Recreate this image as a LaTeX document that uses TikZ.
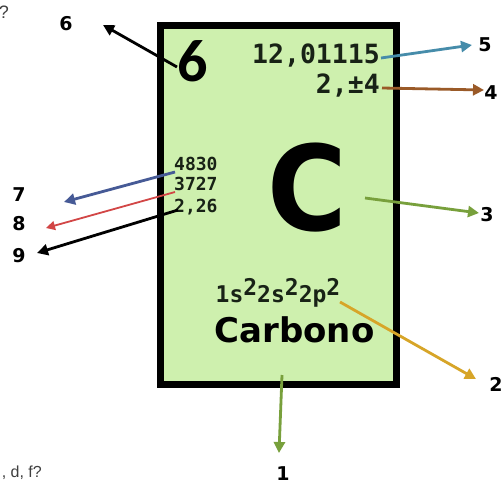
\documentclass[tikz,border=0pt]{standalone}
\usepackage{fontspec}
\setmainfont{Liberation Sans}
\newfontfamily\djb{DejaVu Sans}
\newfontfamily\monob{DejaVu Sans Mono}
\newfontfamily\carl{Carlito}
\usetikzlibrary{arrows.meta}
\definecolor{boxfill}{RGB}{206,240,174}
\definecolor{inktext}{RGB}{24,34,22}
\definecolor{cfive}{RGB}{70,140,170}
\definecolor{cfour}{RGB}{154,90,40}
\definecolor{cgreen}{RGB}{120,160,60}
\definecolor{cseven}{RGB}{70,90,150}
\definecolor{ceight}{RGB}{210,70,70}
\definecolor{ctwo}{RGB}{215,165,40}
\begin{document}
\begin{tikzpicture}[x=1pt,y=-1pt,
  elembox/.style={draw=black,line width=7pt,fill=boxfill,minimum width=236pt,minimum height=359pt,inner sep=0pt},
  numlab/.style={font=\fontsize{19}{19}\selectfont\djb\bfseries,inner sep=0pt},
  monotxt/.style={font=\fontsize{26.5}{26.5}\selectfont\monob\bfseries,text=inktext,inner sep=0pt},
  smallmono/.style={font=\fontsize{18}{18}\selectfont\monob\bfseries,text=inktext,inner sep=0pt},
  arr/.style={line width=2.8pt,-{Triangle[length=11pt,width=11pt]}},
  graytxt/.style={font=\fontsize{16}{16}\selectfont,text=black!75,inner sep=0pt}
]
\useasboundingbox (0,0) rectangle (503,485);
\fill[white] (0,0) rectangle (503,485);

% element box
\node[elembox] (box) at (278.5,205) {};

% texts in box
\node[font=\fontsize{60}{60}\selectfont\carl\bfseries,inner sep=0pt] (big6) at (192.5,61) {6};
\node[monotxt,anchor=base east] (mass) at (380,63) {12,01115};
\node[monotxt,anchor=base east] (ox) at (380,93) {2,±4};
\node[font=\fontsize{118}{118}\selectfont\djb\bfseries,inner sep=0pt,anchor=base] (sym) at (307.5,230) {\scalebox{0.92}[1]{C}};
\node[smallmono,anchor=base west] (boil) at (174,170) {4830};
\node[smallmono,anchor=base west] (melt) at (174,190) {3727};
\node[smallmono,anchor=base west] (eneg) at (174,212) {2,26};
\node[font=\fontsize{23}{23}\selectfont\monob\bfseries,text=inktext,inner sep=0pt,anchor=base] (conf) at (278,302)
  {1s\raisebox{7pt}{2}2s\raisebox{7pt}{2}2p\raisebox{7pt}{2}};
\node[font=\fontsize{34}{34}\selectfont\djb\bfseries,text=black,inner sep=0pt,anchor=base] (name) at (294.5,342) {Carbono};

% number labels
\node[numlab] (l6) at (66,23.5) {6};
\node[numlab] (l5) at (485,45) {5};
\node[numlab] (l4) at (491,93) {4};
\node[numlab] (l3) at (487,215) {3};
\node[numlab] (l2) at (496,384) {2};
\node[numlab] (l1) at (283,474) {1};
\node[numlab] (l7) at (19,195) {7};
\node[numlab] (l8) at (19,224) {8};
\node[numlab] (l9) at (19,256) {9};

% cut-off texts
\node[font=\fontsize{18}{18}\selectfont,text=black!75,inner sep=0pt,anchor=base east] (q) at (9,18) {?};
\node[graytxt,anchor=base east] (dfq) at (42,477) {, d, f?};

% arrow end points
\coordinate (s6) at (177,67);  \coordinate (e6) at (103,25);
\coordinate (s5) at (381,58);  \coordinate (e5) at (472,45);
\coordinate (s4) at (382,88);  \coordinate (e4) at (484,90);
\coordinate (s3) at (365,198); \coordinate (e3) at (479,213);
\coordinate (s7) at (175,172); \coordinate (e7) at (64,202);
\coordinate (s8) at (175,192); \coordinate (e8) at (46,228);
\coordinate (s9) at (178,210); \coordinate (e9) at (37,253);
\coordinate (s2) at (340,302); \coordinate (e2) at (476,379);
\coordinate (s1) at (282,375); \coordinate (e1) at (279,453);

\draw[arr,black] (s6) -- (e6);
\draw[arr,cfive] (s5) -- (e5);
\draw[arr,cfour] (s4) -- (e4);
\draw[arr,cgreen] (s3) -- (e3);
\draw[arr,cseven] (s7) -- (e7);
\draw[arr,ceight,line width=1.8pt,-{Triangle[length=9pt,width=9pt]}] (s8) -- (e8);
\draw[arr,black] (s9) -- (e9);
\draw[arr,ctwo] (s2) -- (e2);
\draw[arr,cgreen] (s1) -- (e1);
\end{tikzpicture}
\end{document}
